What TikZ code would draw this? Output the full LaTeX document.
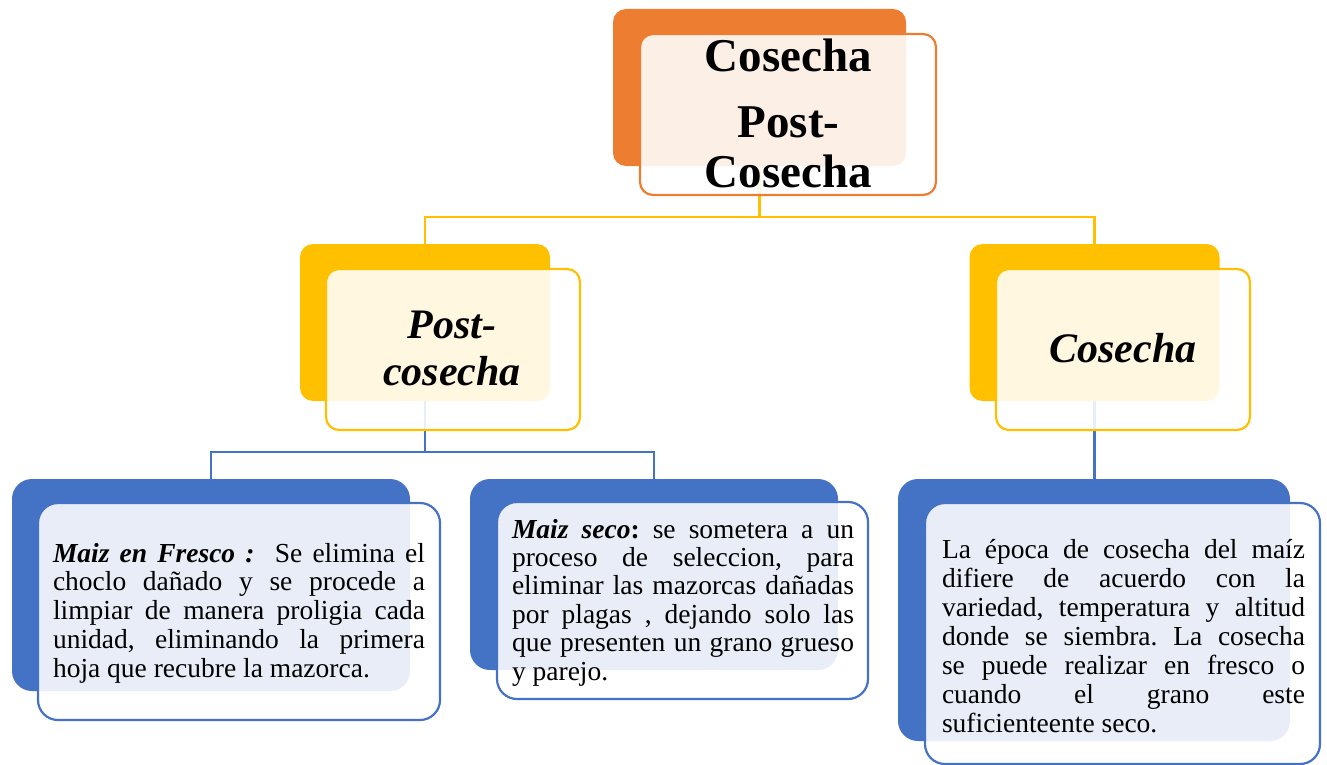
\documentclass[tikz,border=0pt]{standalone}
\usepackage{fontspec}
\setmainfont{Liberation Serif}
\frenchspacing
\definecolor{corange}{HTML}{ED7D31}
\definecolor{cyellow}{HTML}{FFC000}
\definecolor{cblue}{HTML}{4472C4}
\tikzset{
  backbox/.style={fill=#1, draw=none, inner sep=0pt, outer sep=0pt},
  frontbox/.style={draw=#1, line width=2.2pt, fill=white, fill opacity=0.88, inner sep=0pt, outer sep=0pt},
  conn/.style={draw=#1, line width=2.4pt},
  txt/.style={inner sep=0pt, outer sep=0pt, anchor=base west},
  ttl/.style={inner sep=0pt, outer sep=0pt, anchor=base}
}
\begin{document}
\begin{tikzpicture}[x=1pt,y=-1pt]
\useasboundingbox (0,0) rectangle (1327,765);
% back boxes
\node[backbox=corange, rounded corners=13pt, minimum width=293pt, minimum height=157pt] (topB) at (759.5,87.5) {};
\node[backbox=cyellow, rounded corners=13pt, minimum width=250pt, minimum height=157pt] (plB) at (425,322.5) {};
\node[backbox=cyellow, rounded corners=13pt, minimum width=250pt, minimum height=157pt] (cB) at (1094.5,322.5) {};
\node[backbox=cblue, rounded corners=20pt, minimum width=398pt, minimum height=212pt] (blB) at (211,585) {};
\node[backbox=cblue, rounded corners=20pt, minimum width=368pt, minimum height=191pt] (bmB) at (654,574.5) {};
\node[backbox=cblue, rounded corners=20pt, minimum width=392pt, minimum height=262pt] (brB) at (1094,610) {};
% connectors
\draw[conn=cyellow] (topB.south) -- ++(0,51) -| (plB.north);
\draw[conn=cyellow] (topB.south) -- ++(0,51) -| (cB.north);
\draw[conn=cblue] (plB.south) -- ++(0,51) -| (blB.north);
\draw[conn=cblue] (plB.south) -- ++(0,51) -| (bmB.north);
\draw[conn=cblue] (cB.south) -- (cB.south |- brB.north);
% front boxes
\node[frontbox=corange, rounded corners=13pt, minimum width=296pt, minimum height=161pt] (topF) at (788,114.5) {};
\node[frontbox=cyellow, rounded corners=13pt, minimum width=254pt, minimum height=161pt] (plF) at (453,349.5) {};
\node[frontbox=cyellow, rounded corners=13pt, minimum width=254pt, minimum height=161pt] (cF) at (1123,349.5) {};
\node[frontbox=cblue, rounded corners=20pt, minimum width=402pt, minimum height=217pt] (blF) at (239,611.5) {};
\node[frontbox=cblue, rounded corners=20pt, minimum width=371pt, minimum height=197pt] (bmF) at (682.5,600.5) {};
\node[frontbox=cblue, rounded corners=20pt, minimum width=395pt, minimum height=261pt] (brF) at (1122.5,633.5) {};
% titles
\node[ttl] (topT) at (788.5,72) {\parbox[t]{280pt}{\centering\fontsize{47}{50}\selectfont\bfseries Cosecha\par\vspace{16pt}Post-\\Cosecha}};
\node[ttl] (plT) at (452,338) {\parbox[t]{230pt}{\centering\fontsize{42}{47}\selectfont\bfseries\itshape Post-\\cosecha}};
\node[ttl] (cT) at (1123,362) {\fontsize{42}{47}\selectfont\bfseries\itshape Cosecha};
% body texts
\node[txt] (blT) at (53,562) {\parbox[t]{372pt}{\fontsize{27.5}{28.75}\selectfont\tolerance=10000\hbadness=10000\hyphenpenalty=10000
\textbf{\textit{Maiz en Fresco :}}\ \ Se elimina el\linebreak
choclo dañado y se procede a\linebreak
limpiar de manera proligia cada\linebreak
unidad, eliminando la primera\linebreak
hoja que recubre la mazorca.}};
\node[txt] (bmT) at (512,538) {\parbox[t]{342pt}{\fontsize{27.5}{28.4}\selectfont\tolerance=10000\hbadness=10000\hyphenpenalty=10000
\textbf{\textit{Maiz seco}:} se sometera a un\linebreak
proceso de seleccion, para\linebreak
eliminar las mazorcas dañadas\linebreak
por plagas , dejando solo las\linebreak
que presenten un grano grueso\linebreak
y parejo.}};
\node[txt] (brT) at (942,558) {\parbox[t]{363pt}{\fontsize{27.5}{29}\selectfont\tolerance=10000\hbadness=10000\hyphenpenalty=10000
La época de cosecha del maíz\linebreak
difiere de acuerdo con la\linebreak
variedad, temperatura y altitud\linebreak
donde se siembra. La cosecha\linebreak
se puede realizar en fresco o\linebreak
cuando el grano este\linebreak
suficienteente seco.}};
\end{tikzpicture}
\end{document}
